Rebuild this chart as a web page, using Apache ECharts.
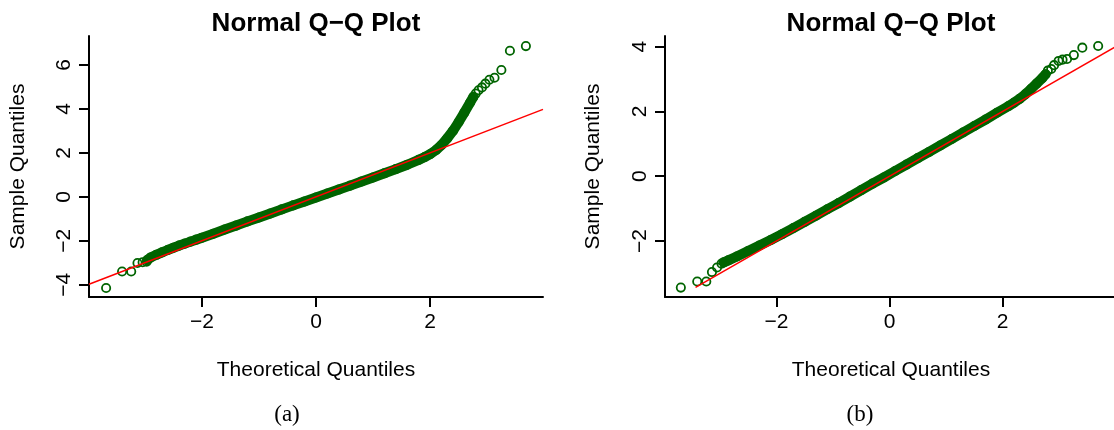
<!DOCTYPE html>
<html><head><meta charset="utf-8">
<script src="https://cdn.jsdelivr.net/npm/echarts@6/dist/echarts.min.js"></script>
<style>html,body{margin:0;padding:0;background:#fff}#c{width:1114px;height:430px}</style>
</head><body><div id="c"></div>
<script>
// ---------- Panel (a) ----------
const bandAx = [-2.96,-2.9,-2.8,-2.7,-2.6,-2.5,-2.4,-2.3,-2.2,-2.1,-2.0,-1.8,-1.6,-1.4,-1.2,-1.0,-0.8,-0.6,-0.4,-0.2,0,0.2,0.4,0.6,0.8,1.0,1.2,1.4,1.6,1.8,1.9,2.0,2.1,2.2,2.3,2.4,2.5,2.6,2.7,2.76];
const bandAy = [-2.88,-2.76,-2.64,-2.53,-2.42,-2.32,-2.22,-2.13,-2.04,-1.95,-1.86,-1.68,-1.49,-1.31,-1.12,-0.94,-0.76,-0.57,-0.39,-0.21,-0.03,0.15,0.33,0.51,0.70,0.88,1.07,1.26,1.46,1.68,1.80,1.94,2.12,2.36,2.66,3.0,3.4,3.83,4.28,4.55];
const tailAx = [-3.68,-3.40,-3.24,-3.13,-3.04,-2.97, 2.80,2.85,2.91,2.97,3.04,3.13,3.25,3.40,3.68];
const tailAy = [-4.15,-3.40,-3.40,-3.01,-2.98,-2.95, 4.70,4.85,4.98,5.15,5.33,5.42,5.77,6.65,6.86];
const lineAx = [-3.98, 3.98];
const lineAy = [-3.98, 3.98];

// ---------- Panel (b) ----------
const bandBx = [-2.93,-2.85,-2.7,-2.5,-2.3,-2.1,-1.9,-1.7,-1.5,-1.3,-1.1,-0.9,-0.7,-0.5,-0.3,-0.1,0.1,0.3,0.5,0.7,0.9,1.1,1.3,1.5,1.7,1.9,2.1,2.2,2.3,2.4,2.5,2.6,2.7,2.76];
const bandBy = [-2.66,-2.60,-2.48,-2.31,-2.14,-1.97,-1.79,-1.60,-1.41,-1.22,-1.02,-0.83,-0.63,-0.43,-0.23,-0.04,0.16,0.36,0.56,0.75,0.95,1.15,1.35,1.55,1.75,1.96,2.16,2.27,2.39,2.53,2.69,2.86,3.03,3.15];
const tailBx = [-3.69,-3.40,-3.24,-3.14,-3.05,-2.97, 2.80,2.86,2.91,2.99,3.06,3.14,3.26,3.41,3.69];
const tailBy = [-3.44,-3.25,-3.25,-2.96,-2.82,-2.70, 3.26,3.31,3.43,3.56,3.60,3.62,3.74,3.97,4.02];
const lineBx = [-3.43, 4.0];
const lineBy = [-3.43, 4.0];

// ---------- axes ----------
const xTicks = [-2, 0, 2];
const yTicksA = [-4, -2, 0, 2, 4, 6];
const yTicksB = [-2, 0, 2, 4];
const titleText = 'Normal Q\u2212Q Plot';
const xTitle = 'Theoretical Quantiles';
const yTitle = 'Sample Quantiles';
const captions = ['(a)', '(b)'];

const GREEN = '#006400';
const SANS = '"Liberation Sans", Arial, sans-serif';
const zip = (a, b) => a.map((v, i) => [v, b[i]]);
const fmt = v => String(v).replace('-', '\u2212');

function xAxis(gi, min, max) {
  return {
    type: 'value', gridIndex: gi, min: min, max: max,
    axisLine: { show: true, onZero: false, lineStyle: { color: '#000', width: 2 } },
    axisTick: { show: true, length: 10, customValues: xTicks, lineStyle: { color: '#000', width: 2 } },
    axisLabel: { customValues: xTicks, formatter: fmt, color: '#000', fontSize: 21, fontFamily: SANS, margin: 15 },
    splitLine: { show: false }
  };
}
function yAxis(gi, min, max, ticks) {
  return {
    type: 'value', gridIndex: gi, min: min, max: max,
    axisLine: { show: true, onZero: false, lineStyle: { color: '#000', width: 2 } },
    axisTick: { show: true, length: 10, customValues: ticks, lineStyle: { color: '#000', width: 2 } },
    axisLabel: { customValues: ticks, formatter: fmt, color: '#000', fontSize: 21, fontFamily: SANS, margin: 14, rotate: 90 },
    splitLine: { show: false }
  };
}
function panelSeries(gi, bx, by, tx, ty, lx, ly) {
  return [
    { type: 'line', xAxisIndex: gi, yAxisIndex: gi, data: zip(bx, by), symbol: 'none', silent: true,
      lineStyle: { color: GREEN, width: 10, cap: 'round', join: 'round' }, z: 2 },
    { type: 'scatter', xAxisIndex: gi, yAxisIndex: gi, data: zip(bx, by).concat(zip(tx, ty)),
      symbol: 'circle', symbolSize: 8.3,
      itemStyle: { color: 'rgba(0,0,0,0)', borderColor: GREEN, borderWidth: 1.8, opacity: 1 }, z: 3 },
    { type: 'line', xAxisIndex: gi, yAxisIndex: gi, data: zip(lx, ly), symbol: 'none',
      lineStyle: { color: '#ff0000', width: 1.5 }, z: 4 }
  ];
}
function txt(x, y, s, font, rot) {
  return { type: 'text', x: x, y: y, rotation: rot || 0, z: 100,
    style: { text: s, font: font, fill: '#000', align: 'center', verticalAlign: 'middle' } };
}

const chart = echarts.init(document.getElementById('c'), null, { renderer: 'canvas' });
chart.setOption({
  animation: false,
  backgroundColor: '#fff',
  grid: [
    { left: 89, top: 36, width: 454, height: 261 },
    { left: 665, top: 36, width: 452, height: 261 }
  ],
  xAxis: [xAxis(0, -3.98, 3.98), xAxis(1, -3.97, 3.97)],
  yAxis: [yAxis(0, -4.56, 7.32, yTicksA), yAxis(1, -3.73, 4.33, yTicksB)],
  series: panelSeries(0, bandAx, bandAy, tailAx, tailAy, lineAx, lineAy)
    .concat(panelSeries(1, bandBx, bandBy, tailBx, tailBy, lineBx, lineBy)),
  graphic: [
    txt(316, 23.5, titleText, 'bold 26px ' + SANS),
    txt(891, 23.5, titleText, 'bold 26px ' + SANS),
    txt(316, 370, xTitle, '21px ' + SANS),
    txt(891, 370, xTitle, '21px ' + SANS),
    txt(18, 166.5, yTitle, '21px ' + SANS, Math.PI / 2),
    txt(593, 166.5, yTitle, '21px ' + SANS, Math.PI / 2),
    txt(287, 415, captions[0], '23px "Liberation Serif", "Times New Roman", serif'),
    txt(860, 415, captions[1], '23px "Liberation Serif", "Times New Roman", serif')
  ]
});
</script></body></html>
